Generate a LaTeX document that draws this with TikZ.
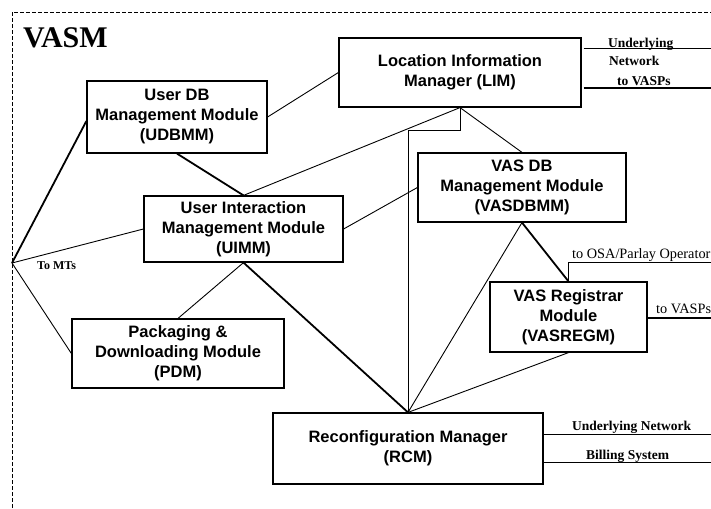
\documentclass[tikz,border=0pt]{standalone}
\usepackage{fontspec}
\setmainfont{Liberation Serif}
\setsansfont{Liberation Sans}
\begin{document}
\begin{tikzpicture}[x=1pt,y=-1pt,
  box/.style={draw,line width=1.2pt,inner sep=0pt,align=center,
    font=\sffamily\bfseries\fontsize{16.5}{20}\selectfont},
  thin/.style={line width=0.9pt},
  thick/.style={line width=1.8pt},
  lab/.style={inner sep=0pt,anchor=base west,font=\bfseries\fontsize{13.5}{16}\selectfont},
  labr/.style={inner sep=0pt,anchor=base west,font=\fontsize{14.3}{16}\selectfont}]
\useasboundingbox (0,0) rectangle (711,508);
% border
\draw[line width=0.8pt,dash pattern=on 4pt off 2pt] (12,508) -- (12,12) -- (711,12);
\node[inner sep=0pt,anchor=base west,font=\bfseries\fontsize{30}{32}\selectfont] (title) at (23,48) {VASM};
% boxes
\node[box,minimum width=180pt,minimum height=72pt] (UDBMM) at (177,117) {User DB\\Management Module\\(UDBMM)};
\node[box,minimum width=242pt,minimum height=69pt] (LIM) at (460,72.5) {Location Information\\Manager (LIM)};
\node[box,minimum width=199pt,minimum height=66pt] (UIMM) at (243.5,229) {User Interaction\\Management Module\\(UIMM)};
\node[box,minimum width=208pt,minimum height=69pt] (VASDBMM) at (522,187.5) {VAS DB\\Management Module\\(VASDBMM)};
\node[box,minimum width=157pt,minimum height=70pt] (VASREGM) at (568.5,317) {VAS Registrar\\Module\\(VASREGM)};
\node[box,minimum width=212pt,minimum height=69pt] (PDM) at (178,353.5) {Packaging \&\\Downloading Module\\(PDM)};
\node[box,minimum width=270pt,minimum height=71pt] (RCM) at (408,448.5) {Reconfiguration Manager\\(RCM)};
% free ends
\coordinate (MT) at (12,263);
\coordinate (e1) at (711,48);
\coordinate (e2) at (711,88);
\coordinate (osa) at (711,262);
\coordinate (vasps) at (711,318);
\coordinate (un) at (711,434);
\coordinate (bill) at (711,462);
% connectors
\draw[thin] (UDBMM.east) -- (LIM.west);
\draw[thick] (UDBMM.south) -- (UIMM.north);
\draw[thin] (UIMM.north) -- (LIM.south);
\draw[thin] (LIM.south) -- (VASDBMM.north);
\draw[thin] (LIM.south) -- ++(0,23) -| (RCM.north);
\draw[thin] (UIMM.east) -- (VASDBMM.west);
\draw[thick] (VASDBMM.south) -- (VASREGM.north);
\draw[thin] (VASDBMM.south) -- (RCM.north);
\draw[thin] (VASREGM.south) -- (RCM.north);
\draw[thick] (UIMM.south) -- (RCM.north);
\draw[thin] (UIMM.south) -- (PDM.north);
\draw[thick] (MT) -- ([yshift=-4pt]UDBMM.west);
\draw[thin] (MT) -- (UIMM.west);
\draw[thin] (MT) -- (PDM.west);
\draw[thin] ([xshift=2pt]LIM.east |- e1) -- (e1);
\draw[thick] ([xshift=2pt]LIM.east |- e2) -- (e2);
\draw[thin] (VASREGM.north) |- (osa);
\draw[thick] (VASREGM.east |- vasps) -- (vasps);
\draw[thin] (RCM.east |- un) -- (un);
\draw[thin] (RCM.east |- bill) -- (bill);
% labels
\node[lab] (l1) at (608,48) {Underlying};
\node[lab] (l2) at (609,66) {Network};
\node[lab] (l3) at (617,85) {to VASPs};
\node[inner sep=0pt,anchor=base west,font=\bfseries\fontsize{12}{14}\selectfont] (l4) at (37,269) {To MTs};
\node[labr] (l5) at (572,258) {to OSA/Parlay Operator};
\node[labr] (l6) at (656,313) {to VASPs};
\node[lab] (l7) at (572,430) {Underlying Network};
\node[lab] (l8) at (586,459) {Billing System};
\end{tikzpicture}
\end{document}
